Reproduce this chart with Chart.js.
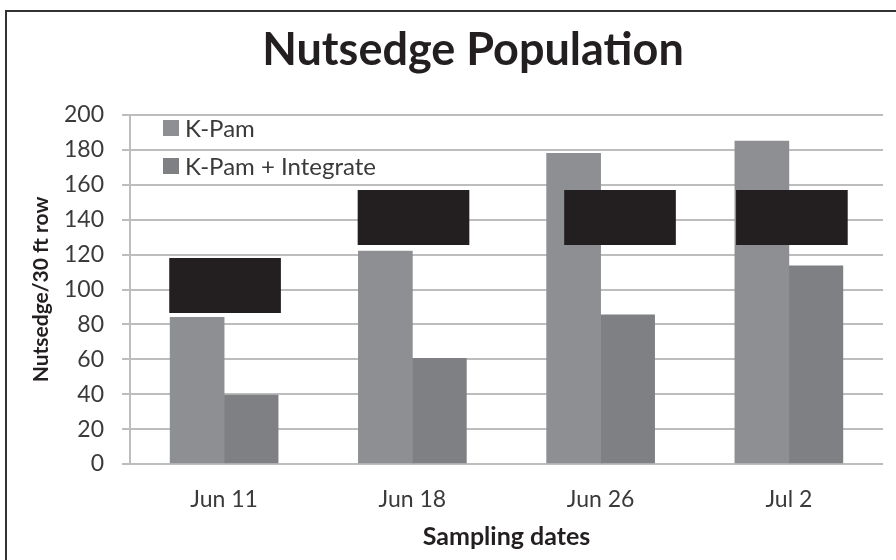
<!DOCTYPE html>
<html>
<head>
<meta charset="utf-8">
<script src="https://cdn.jsdelivr.net/npm/chart.js@4"></script>
<style>
  html, body { margin: 0; padding: 0; background: #fff; }
  #wrap { position: relative; width: 896px; height: 560px; overflow: hidden; }
  #frame { position: absolute; left: 5px; top: 10px; width: 920px; height: 580px;
           border-left: 2px solid #333; border-top: 2px solid #333; pointer-events: none; }
  canvas { position: absolute; left: 0; top: 0; }
</style>
</head>
<body>
<div id="wrap">
  <canvas id="chart" width="896" height="560"></canvas>
  <div id="frame"></div>
</div>
<script>
// sampling dates and nutsedge counts per 30 ft row
const dates = ["Jun 11", "Jun 18", "Jun 26", "Jul 2"];
const kPam = [84, 122, 178, 185];
const kPamIntegrate = [39.5, 60.5, 85.5, 113.5];

// black boxes covering the letters above each pair (x in category units)
const boxX = [0.005, 1.006, 2.103, 3.016];
const boxLow = [86.7, 125.7, 125.7, 125.7];
const boxHigh = [117.9, 156.8, 156.8, 156.8];

const yTicks = [0, 20, 40, 60, 80, 100, 120, 140, 160, 180, 200];

const FONT = "Lato, 'Open Sans', sans-serif";
const TEXT = "#3a3a3a";

// legend drawn inside the plot area, top-left
const innerLegend = {
  id: "innerLegend",
  afterDraw(chart) {
    const { ctx, chartArea } = chart;
    const items = chart.data.datasets.filter(d => d.showInLegend);
    ctx.save();
    ctx.font = "24px " + FONT;
    ctx.textBaseline = "middle";
    items.forEach((d, i) => {
      const cy = chartArea.top + 13 + i * 38;
      const x = chartArea.left + 33;
      ctx.fillStyle = d.backgroundColor;
      ctx.fillRect(x, cy - 8, 16, 16);
      ctx.fillStyle = TEXT;
      ctx.fillText(d.label, x + 22, cy + 1);
    });
    ctx.restore();
  }
};

const boxes = dates.map((_, i) => ({ x: boxX[i], y: [boxLow[i], boxHigh[i]] }));

new Chart(document.getElementById("chart"), {
  type: "bar",
  data: {
    labels: dates,
    datasets: [
      {
        label: "boxes",
        data: boxes,
        xAxisID: "x2",
        backgroundColor: "#231f20",
        barThickness: 111,
        grouped: false,
        order: -1
      },
      {
        label: "K-Pam",
        data: kPam,
        backgroundColor: "#8e8f93",
        showInLegend: true,
        barThickness: 54
      },
      {
        label: "K-Pam + Integrate",
        data: kPamIntegrate,
        backgroundColor: "#7f8084",
        showInLegend: true,
        barThickness: 54
      }
    ]
  },
  options: {
    responsive: false,
    animation: false,
    layout: { padding: { left: 63, right: 13, top: 10, bottom: 8 } },
    plugins: {
      legend: { display: false },
      tooltip: { enabled: false },
      title: {
        display: true,
        text: "Nutsedge Population",
        color: "#231f20",
        font: { family: FONT, size: 45, weight: "bold" },
        padding: { top: 13, bottom: 38 }
      }
    },
    scales: {
      x: {
        type: "category",
        grid: { display: false, drawTicks: false },
        border: { display: false },
        ticks: { color: TEXT, font: { family: FONT, size: 23 }, padding: 22 },
        title: {
          display: true,
          text: "Sampling dates",
          color: "#231f20",
          font: { family: FONT, size: 25, weight: "bold" },
          padding: { top: 4, bottom: 0 }
        },
        afterFit: s => { s.height = 88; }
      },
      x2: {
        type: "linear",
        display: false,
        offset: false,
        min: -0.5,
        max: 3.5
      },
      y: {
        min: 0,
        max: 200,
        afterBuildTicks: s => { s.ticks = yTicks.map(v => ({ value: v })); },
        grid: { color: "#bdbdbd", lineWidth: 2, tickLength: 8 },
        border: { color: "#bdbdbd", width: 2 },
        ticks: { color: TEXT, font: { family: FONT, size: 23 }, padding: 18 },
        title: {
          display: true,
          text: "Nutsedge/30 ft row",
          color: "#231f20",
          font: { family: FONT, size: 21, weight: "bold" },
          padding: { top: -34, bottom: 4 }
        },
        afterFit: s => { s.width = 67; }
      }
    }
  },
  plugins: [innerLegend]
});
</script>
</body>
</html>
